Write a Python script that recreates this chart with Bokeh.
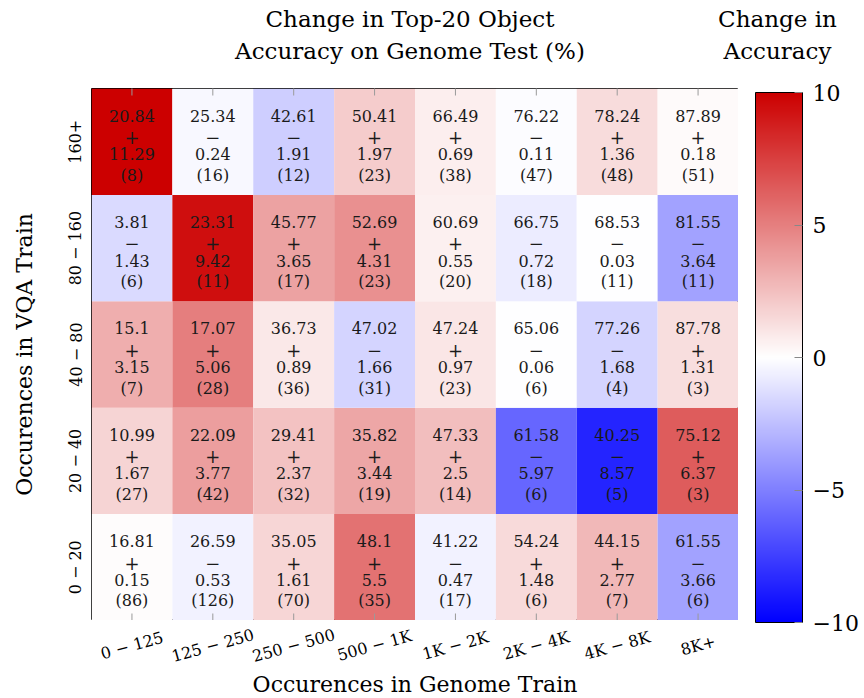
import math
from bokeh.plotting import figure
from bokeh.layouts import column, row
from bokeh.models import (LinearColorMapper, ColorBar, FixedTicker,
                          ColumnDataSource, Range1d)
from bokeh.transform import dodge, transform
from bokeh.core.properties import value
from bokeh.embed import file_html
from bokeh.resources import INLINE

# ---------------- data ----------------
genome_bins = ["0 − 125", "125 − 250", "250 − 500", "500 − 1K",
               "1K − 2K", "2K − 4K", "4K − 8K", "8K+"]
vqa_bins = ["0 − 20", "20 − 40", "40 − 80", "80 − 160", "160+"]  # bottom -> top

# rows listed bottom (0-20) -> top (160+)
accuracy = [
    [16.81, 26.59, 35.05, 48.1, 41.22, 54.24, 44.15, 61.55],
    [10.99, 22.09, 29.41, 35.82, 47.33, 61.58, 40.25, 75.12],
    [15.1, 17.07, 36.73, 47.02, 47.24, 65.06, 77.26, 87.78],
    [3.81, 23.31, 45.77, 52.69, 60.69, 66.75, 68.53, 81.55],
    [20.84, 25.34, 42.61, 50.41, 66.49, 76.22, 78.24, 87.89],
]
change = [
    [0.15, -0.53, 1.61, 5.5, -0.47, 1.48, 2.77, -3.66],
    [1.67, 3.77, 2.37, 3.44, 2.5, -5.97, -8.57, 6.37],
    [3.15, 5.06, 0.89, -1.66, 0.97, -0.06, -1.68, 1.31],
    [-1.43, 9.42, 3.65, 4.31, 0.55, -0.72, -0.03, -3.64],
    [11.29, -0.24, -1.91, 1.97, 0.69, -0.11, 1.36, 0.18],
]
counts = [
    [86, 126, 70, 35, 17, 6, 7, 6],
    [27, 42, 32, 19, 14, 6, 5, 3],
    [7, 28, 36, 31, 23, 6, 4, 3],
    [6, 11, 17, 23, 20, 18, 11, 11],
    [8, 16, 12, 23, 38, 47, 48, 51],
]
cbar_ticks = [-10, -5, 0, 5, 10]

title_lines = ["Change in Top-20 Object", "Accuracy on Genome Test (%)"]
cbar_title_lines = ["Change in", "Accuracy"]
x_label = "Occurences in Genome Train"
y_label = "Occurences in VQA Train"

FONT = "DejaVu Serif"
TXT = "#1a1a1a"

# ---------------- colour map: blue -> white -> red ----------------
def _blend(c1, c2, t):
    return "#%02x%02x%02x" % tuple(int(round(a + (b - a) * t)) for a, b in zip(c1, c2))

N = 256
palette = []
for i in range(N):
    t = i / (N - 1)
    if t < 0.5:
        palette.append(_blend((0, 0, 255), (255, 255, 255), t / 0.5))
    else:
        palette.append(_blend((255, 255, 255), (204, 0, 0), (t - 0.5) / 0.5))
mapper = LinearColorMapper(palette=palette, low=-10, high=10)

# ---------------- source ----------------
xs, ys, ch, vals, signs, mags, cnts = [], [], [], [], [], [], []
for r in range(len(vqa_bins)):
    for c in range(len(genome_bins)):
        xs.append(c)
        ys.append(r)
        ch.append(change[r][c])
        vals.append(str(accuracy[r][c]))
        signs.append("+" if change[r][c] >= 0 else "−")
        mags.append(str(abs(change[r][c])))
        cnts.append("(%d)" % counts[r][c])
src = ColumnDataSource(dict(x=xs, y=ys, change=ch, val=vals, sign=signs,
                            mag=mags, cnt=cnts))

LEFT = 91
FW, FH = 647, 532
TOTAL_W = 860
TITLE_H = 68
TOP_B = 20
BOT_H = 78
CB_W = TOTAL_W - LEFT - FW

# ---------------- title strip ----------------
tf = figure(frame_width=TOTAL_W, frame_height=TITLE_H,
            x_range=Range1d(0, TOTAL_W), y_range=Range1d(0, TITLE_H),
            x_axis_type=None, y_axis_type=None, min_border=0,
            toolbar_location=None, output_backend="svg")
tf.outline_line_color = None
tf.grid.visible = False
ttl = ColumnDataSource(dict(
    x=[LEFT + FW / 2 - 5] * 2 + [LEFT + FW + 39] * 2,
    y=[TITLE_H - 18, TITLE_H - 50] * 2,
    text=title_lines + cbar_title_lines))
tf.text(x="x", y="y", text="text", source=ttl, text_font=value(FONT),
        text_font_size="23px", text_align="center", text_baseline="middle",
        text_color="black")

# ---------------- heat map ----------------
p = figure(frame_width=FW, frame_height=FH,
           x_range=Range1d(-0.5, 7.5), y_range=Range1d(-0.5, 4.5),
           x_axis_type=None,
           min_border_left=LEFT, min_border_top=TOP_B, min_border_bottom=0,
           min_border_right=0,
           toolbar_location=None, output_backend="svg")
p.grid.visible = False
p.outline_line_color = "black"
p.outline_line_width = 1

p.rect(x="x", y="y", width=1, height=1, source=src,
       fill_color=transform("change", mapper), line_color=None)

txt = dict(source=src, text_font=value(FONT), text_color=TXT,
           text_align="center", text_baseline="middle")
p.text(x="x", y=dodge("y", 0.245, range=p.y_range), text="val",
       text_font_size="16px", **txt)
p.text(x="x", y=dodge("y", 0.045, range=p.y_range), text="sign",
       text_font_size="18px", **txt)
p.text(x="x", y=dodge("y", -0.118, range=p.y_range), text="mag",
       text_font_size="16px", **txt)
p.text(x="x", y=dodge("y", -0.315, range=p.y_range), text="cnt",
       text_font_size="16px", **txt)

# tick marks on top and bottom edges (half of each dash is clipped by the frame)
col_ticks = ColumnDataSource(dict(x=list(range(len(genome_bins)))))
for edge in (p.y_range.start, p.y_range.end):
    p.scatter(x="x", y=edge, source=col_ticks, marker="dash", size=14,
              angle=math.pi / 2, line_color="#9a9a9a", line_width=1)

ya = p.yaxis[0]
ya.ticker = FixedTicker(ticks=list(range(len(vqa_bins))))
ya.major_label_overrides = {i: s for i, s in enumerate(vqa_bins)}
ya.major_label_orientation = "vertical"
ya.major_label_text_font = FONT
ya.major_label_text_font_size = "16px"
ya.major_label_text_color = "black"
ya.major_tick_line_color = None
ya.major_tick_in = 0
ya.major_tick_out = 0
ya.minor_tick_line_color = None
ya.minor_tick_in = 0
ya.minor_tick_out = 0
ya.axis_line_color = None
ya.axis_label = y_label
ya.axis_label_text_font = FONT
ya.axis_label_text_font_size = "22px"
ya.axis_label_text_font_style = "normal"
ya.axis_label_text_color = "black"
ya.major_label_standoff = 6
ya.axis_label_standoff = 27

# ---------------- bottom strip: x tick labels + axis title ----------------
bf = figure(frame_width=FW, frame_height=BOT_H, x_range=p.x_range,
            y_range=Range1d(0, BOT_H), x_axis_type=None, y_axis_type=None,
            min_border_left=LEFT, min_border_right=0, min_border_top=0,
            min_border_bottom=0, toolbar_location=None, output_backend="svg")
bf.outline_line_color = None
bf.grid.visible = False
xl = ColumnDataSource(dict(x=list(range(len(genome_bins))), text=genome_bins))
bf.text(x="x", y=BOT_H - 25, text="text", source=xl, angle=0.27,
        text_font=value(FONT), text_font_size="16px", text_align="center",
        text_baseline="middle", text_color="black")
bf.text(x=[(p.x_range.start + p.x_range.end) / 2], y=[BOT_H - 64], text=[x_label],
        text_font=value(FONT), text_font_size="22px", text_align="center",
        text_baseline="middle", text_color="black")

# ---------------- colour bar strip ----------------
cf = figure(frame_width=CB_W, frame_height=TOP_B + FH + BOT_H,
            x_axis_type=None, y_axis_type=None, min_border=0,
            toolbar_location=None, output_backend="svg")
cf.outline_line_color = None
cf.grid.visible = False
cb = ColorBar(color_mapper=mapper, width=47, height=530, padding=0, margin=0,
              location=(17, BOT_H - 2),
              ticker=FixedTicker(ticks=cbar_ticks),
              major_label_overrides={-10: "−10", -5: "−5"},
              major_label_text_font=FONT, major_label_text_font_size="22px",
              major_label_text_color="black",
              bar_line_color="black", bar_line_width=1,
              major_tick_line_color="#888888", major_tick_in=8, major_tick_out=0,
              minor_tick_line_color=None, label_standoff=10,
              border_line_color=None, background_fill_color=None)
cf.add_layout(cb, "center")

layout = column(tf, row(column(p, bf), cf))
open("out.html", "w").write(file_html(layout, INLINE))
